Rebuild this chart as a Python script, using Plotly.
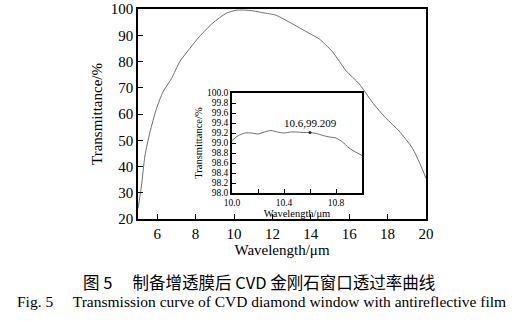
import plotly.graph_objects as go

# Full-range transmission spectrum (wavelength in μm, transmittance in %)
wavelength = [5.0, 5.1, 5.18, 5.36, 5.62, 5.96, 6.3, 6.75, 7.18, 7.7, 8.2, 8.9, 9.6,
              10.1, 10.5, 11.0, 11.5, 12.2, 13.0, 14.1, 14.44, 15.13, 15.83, 16.52,
              17.2, 17.9, 18.6, 19.29, 19.72, 20.0]
transmittance = [24.0, 28.5, 32.6, 44.0, 53.0, 62.0, 68.4, 73.6, 80.0, 85.0, 89.5, 94.7, 98.4,
                 99.5, 99.6, 99.3, 98.6, 97.6, 94.5, 90.0, 88.6, 83.7, 76.5, 71.5,
                 64.5, 58.5, 53.5, 47.0, 40.5, 35.5]

# Detail around the CO2 laser line
wl_zoom = [10.0, 10.05, 10.1, 10.15, 10.2, 10.25, 10.3, 10.35, 10.4, 10.45, 10.5,
           10.55, 10.6, 10.65, 10.7, 10.75, 10.8, 10.85, 10.9, 10.95, 11.0]
tr_zoom = [99.05, 99.15, 99.2, 99.2, 99.18, 99.22, 99.25, 99.22, 99.2, 99.22, 99.22,
           99.21, 99.209, 99.19, 99.15, 99.12, 99.1, 99.02, 98.9, 98.82, 98.75]

marked_wl = 10.6
marked_tr = 99.209

main_ticks = [6, 8, 10, 12, 14, 16, 18, 20]
main_yticks = [20, 30, 40, 50, 60, 70, 80, 90, 100]
inset_xticks = [10.0, 10.2, 10.4, 10.6, 10.8]
inset_xlabels = ["10.0", "", "10.4", "", "10.8"]
inset_yticks = [98.0, 98.2, 98.4, 98.6, 98.8, 99.0, 99.2, 99.4, 99.6, 99.8, 100.0]

caption_cn = "图 5\u3000 制备增透膜后 CVD 金刚石窗口透过率曲线"
caption_en = "Fig. 5\u3000 Transmission curve of CVD diamond window with antireflective film"

serif = "Liberation Serif"
cjk = "Noto Sans CJK SC"


def sfont(size):
    return dict(family=serif, size=size, color="black")


fig = go.Figure()
fig.add_trace(go.Scatter(x=wavelength, y=transmittance, mode="lines",
                         line=dict(color="#6e6e6e", width=1, shape="spline", smoothing=0.6),
                         xaxis="x", yaxis="y", showlegend=False, hoverinfo="skip"))
fig.add_trace(go.Scatter(x=wl_zoom, y=tr_zoom, mode="lines",
                         line=dict(color="#6e6e6e", width=1, shape="spline", smoothing=0.6),
                         xaxis="x2", yaxis="y2", showlegend=False, hoverinfo="skip"))
fig.add_trace(go.Scatter(x=[marked_wl], y=[marked_tr], mode="markers+text",
                         marker=dict(color="#222222", size=3),
                         text=[f"{marked_wl},{marked_tr}"], textposition="top center",
                         textfont=sfont(11),
                         xaxis="x2", yaxis="y2", showlegend=False, hoverinfo="skip"))

W, H = 527, 322
main_x = [138 / W, 426 / W]
main_y = [1 - 219 / H, 1 - 9 / H]
ins_x = [232 / W, 362 / W]
ins_y = [1 - 193 / H, 1 - 93 / H]

axis_common = dict(showline=True, linecolor="black", mirror=True, ticks="inside",
                   tickcolor="black", showgrid=False, zeroline=False, automargin=False)

fig.update_layout(
    width=W, height=H, margin=dict(l=0, r=0, t=0, b=0),
    paper_bgcolor="white", plot_bgcolor="white",
    font=sfont(14),
    xaxis=dict(domain=main_x, range=[5, 20], tickvals=main_ticks, linewidth=1.5, ticklen=5,
               tickfont=sfont(15), title=dict(text="Wavelength/μm", font=sfont(15), standoff=2),
               **axis_common),
    yaxis=dict(domain=main_y, range=[20, 100], tickvals=main_yticks, linewidth=1.5, ticklen=5,
               tickfont=sfont(15), title=dict(text="Transmittance/%", font=sfont(15), standoff=5),
               **axis_common),
    xaxis2=dict(domain=ins_x, range=[10.0, 11.0], tickvals=inset_xticks, ticktext=inset_xlabels,
                anchor="y2", linewidth=1.5, ticklen=4, tickfont=sfont(9.5),
                title=dict(text="Wavelength/μm", font=sfont(10.5), standoff=0), **axis_common),
    yaxis2=dict(domain=ins_y, range=[98.0, 100.0], tickvals=inset_yticks, tickformat=".1f",
                anchor="x2", linewidth=1.5, ticklen=4, tickfont=sfont(9.5),
                title=dict(text="Transmittance/%", font=sfont(10.5), standoff=2), **axis_common),
    annotations=[
        dict(text=caption_cn, x=259 / W, y=1 - 282 / H, xref="paper", yref="paper",
             xanchor="center", yanchor="middle", showarrow=False,
             font=dict(family=cjk + ", " + serif, size=16.5, color="black")),
        dict(text=caption_en, x=261 / W, y=1 - 301 / H, xref="paper", yref="paper",
             xanchor="center", yanchor="middle", showarrow=False, font=sfont(15.5)),
    ],
)

fig.write_html("out.html")
